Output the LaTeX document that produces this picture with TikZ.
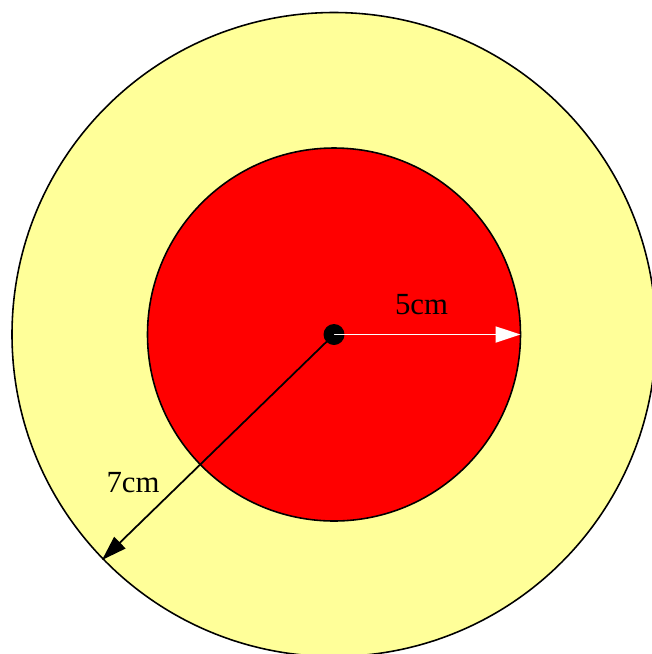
\documentclass[tikz,border=0pt]{standalone}
\usepackage{fontspec}
\setmainfont{Liberation Serif}
\usetikzlibrary{arrows.meta, positioning}
\definecolor{ringYellow}{HTML}{FFFF99}
\definecolor{coreRed}{HTML}{FF0000}

\begin{document}
\begin{tikzpicture}[
    x=0.02cm, y=-0.02cm,
    disc/.style={draw=black, line width=0.9pt},
    hub/.style={circle, fill=black, minimum size=0.42cm, inner sep=0pt},
    radius5/.style={-{Triangle[length=0.5cm, width=0.32cm]}, draw=white, line width=1pt},
    radius7/.style={-{Triangle[length=0.5cm, width=0.32cm]}, draw=black, line width=1pt},
    size/.style={font=\fontsize{17.5}{20}\selectfont, text=black, inner sep=0pt}
]
\useasboundingbox (0,0) rectangle (652,654);

% Outer ring and inner disc
\draw[disc, fill=ringYellow] (334,334.5) circle [radius=322];
\draw[disc, fill=coreRed] (334,334.5) circle [radius=186.5];

% Centre point and rim ends
\node[hub] (centre) at (334,334.5) {};
\coordinate (rim5) at (520.5,334.5);
\coordinate (rim7) at (102,560);

% Radii
\draw[radius5] (centre.center) -- (rim5);
\draw[radius7] (centre.center) -- (rim7);

% Labels
\node[size] (lab5) at (421.5,305) {5cm};
\node[size] (lab7) at (133,483) {7cm};

\end{tikzpicture}
\end{document}
